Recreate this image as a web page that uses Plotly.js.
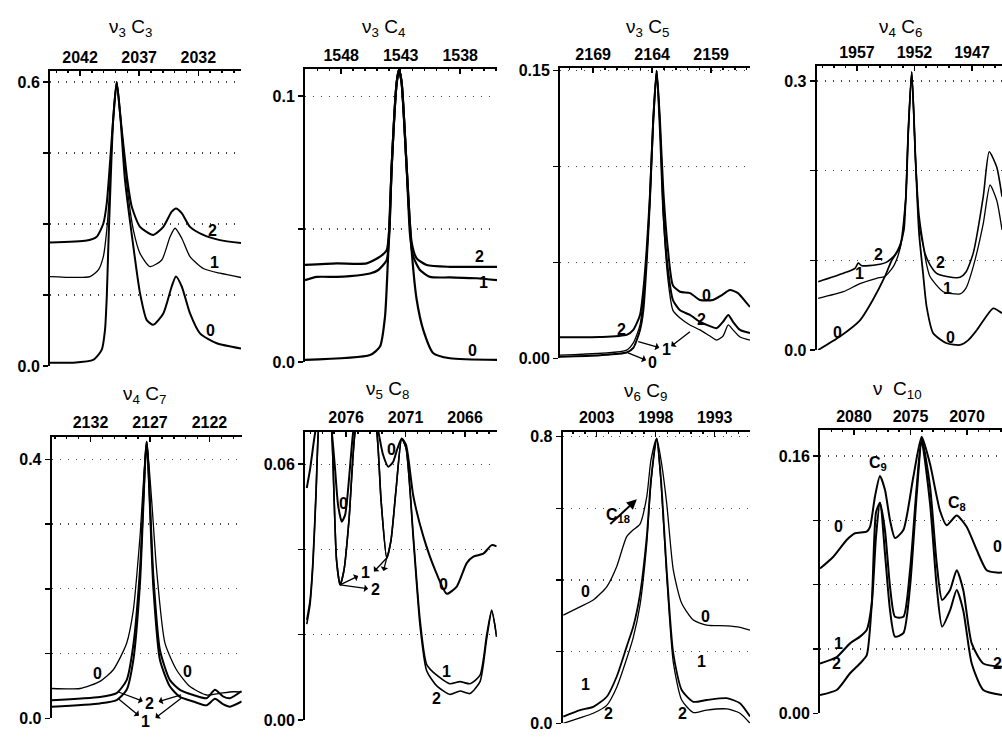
<!DOCTYPE html>
<html><head><meta charset="utf-8">
<script src="https://cdn.plot.ly/plotly-3.0.1.min.js"></script>
<style>html,body{margin:0;padding:0;background:#fff}#chart{width:1002px;height:741px}</style>
</head><body><div id="chart"></div>
<script>
// ---------------- DATA (wavenumber cm-1, absorbance) ----------------
// Panel 1: nu3 C3
const P1_WN0 = [2044.54, 2042.57, 2040.88, 2040.17, 2039.89, 2039.74, 2039.61, 2039.46, 2039.2, 2038.9, 2038.6, 2038.2, 2037.49, 2036.93, 2036.36, 2035.80, 2034.96, 2034.25, 2033.89, 2033.40, 2032.70, 2031.86, 2030.44, 2028.39];
const P1_A0  = [0.007, 0.007, 0.013, 0.034, 0.076, 0.146, 0.252, 0.358, 0.52, 0.60, 0.53, 0.393, 0.252, 0.154, 0.097, 0.087, 0.111, 0.168, 0.189, 0.168, 0.111, 0.069, 0.048, 0.037];
const P1_WN1 = [2044.54, 2041.15, 2040.45, 2040.03, 2039.74, 2039.55, 2039.2, 2038.9, 2038.6, 2037.92, 2037.49, 2036.93, 2036.08, 2035.09, 2034.39, 2033.97, 2033.40, 2032.70, 2031.58, 2030.17, 2028.39];
const P1_A1  = [0.189, 0.189, 0.203, 0.231, 0.287, 0.351, 0.52, 0.60, 0.53, 0.358, 0.287, 0.238, 0.21, 0.224, 0.273, 0.291, 0.27, 0.231, 0.206, 0.196, 0.187];
const P1_WN2 = [2044.54, 2041.43, 2040.59, 2040.03, 2039.74, 2039.2, 2038.9, 2038.6, 2038.0, 2037.63, 2036.93, 2035.80, 2034.96, 2034.25, 2033.89, 2033.40, 2032.70, 2031.58, 2030.17, 2028.39];
const P1_A2  = [0.261, 0.265, 0.273, 0.301, 0.344, 0.52, 0.60, 0.53, 0.393, 0.337, 0.294, 0.277, 0.294, 0.326, 0.333, 0.323, 0.294, 0.277, 0.266, 0.26];

// Panel 2: nu3 C4
const P2_WN0 = [1551.04, 1545.58, 1544.74, 1544.32, 1544.04, 1543.76, 1543.34, 1543.14, 1542.92, 1542.50, 1542.08, 1541.66, 1541.10, 1540.26, 1538.86, 1534.91];
const P2_A0  = [0.0008, 0.0026, 0.0058, 0.017, 0.042, 0.0733, 0.105, 0.110, 0.105, 0.0733, 0.042, 0.0235, 0.012, 0.0033, 0.0014, 0.0008];
const P2_WN1 = [1551.04, 1550.06, 1548.38, 1547.26, 1545.58, 1544.88, 1544.18, 1543.96, 1543.76, 1543.34, 1543.14, 1542.92, 1542.50, 1542.22, 1541.94, 1541.38, 1540.54, 1538.86, 1536.61, 1534.91];
const P2_A1  = [0.0308, 0.032, 0.032, 0.0323, 0.0333, 0.0346, 0.0383, 0.048, 0.0733, 0.105, 0.110, 0.105, 0.0733, 0.048, 0.0396, 0.0346, 0.032, 0.0318, 0.0315, 0.0308];
const P2_WN2 = [1551.04, 1548.38, 1545.86, 1544.74, 1544.18, 1543.96, 1543.76, 1543.34, 1543.14, 1542.92, 1542.50, 1542.08, 1541.66, 1540.82, 1538.86, 1534.91];
const P2_A2  = [0.0365, 0.0371, 0.0371, 0.0396, 0.042, 0.05, 0.0733, 0.105, 0.110, 0.105, 0.0733, 0.045, 0.039, 0.0365, 0.0358, 0.0358];

// Panel 3: nu3 C5
const P3_WN0 = [2171.81, 2168.42, 2166.16, 2165.60, 2165.03, 2164.75, 2164.47, 2164.19, 2163.91, 2163.62, 2163.34, 2163.06, 2162.66, 2162.24, 2161.64, 2160.80, 2159.95, 2158.85, 2158.08, 2157.41, 2156.73, 2155.99, 2155.71];
const P3_A0  = [0.0008, 0.0016, 0.003, 0.0054, 0.0148, 0.025, 0.0497, 0.0826, 0.124, 0.150, 0.124, 0.088, 0.0565, 0.038, 0.0347, 0.034, 0.0304, 0.0304, 0.033, 0.0356, 0.034, 0.0288, 0.0268];
const P3_WN1 = [2171.81, 2166.16, 2165.60, 2165.03, 2164.47, 2164.19, 2163.91, 2163.62, 2163.34, 2163.06, 2162.66, 2162.24, 2161.64, 2160.80, 2159.95, 2159.10, 2158.53, 2158.00, 2157.55, 2157.15, 2156.56, 2155.71];
const P3_A1  = [0.0017, 0.0043, 0.008, 0.0174, 0.052, 0.0826, 0.124, 0.150, 0.122, 0.0748, 0.041, 0.025, 0.021, 0.0174, 0.0148, 0.0116, 0.0095, 0.0116, 0.0174, 0.0148, 0.0111, 0.0095];
const P3_WN2 = [2171.81, 2168.42, 2166.16, 2165.60, 2165.03, 2164.75, 2164.47, 2164.19, 2163.91, 2163.62, 2163.34, 2163.06, 2162.66, 2162.24, 2161.64, 2160.80, 2159.95, 2159.10, 2158.53, 2158.00, 2157.55, 2157.15, 2156.56, 2155.71];
const P3_A2  = [0.011, 0.0111, 0.0122, 0.0148, 0.0226, 0.0356, 0.0565, 0.085, 0.124, 0.150, 0.119, 0.077, 0.046, 0.0304, 0.025, 0.0226, 0.019, 0.0168, 0.0157, 0.019, 0.0226, 0.019, 0.0148, 0.0132];

// Panel 4: nu4 C6
const P4_WN0 = [1960.37, 1958.48, 1956.74, 1955.61, 1954.57, 1953.98, 1953.26, 1952.75, 1952.55, 1952.24, 1951.90, 1951.60, 1951.25, 1950.94, 1950.37, 1949.20, 1948.04, 1947.32, 1946.59, 1945.15, 1944.39];
const P4_A0  = [0.0, 0.015, 0.033, 0.056, 0.082, 0.100, 0.115, 0.17, 0.24, 0.31, 0.21, 0.13, 0.085, 0.048, 0.0186, 0.0075, 0.0056, 0.011, 0.022, 0.0465, 0.041];
const P4_WN1 = [1960.37, 1958.19, 1956.74, 1955.29, 1954.57, 1953.84, 1953.41, 1953.09, 1952.75, 1952.55, 1952.24, 1951.90, 1951.60, 1951.23, 1950.94, 1950.65, 1949.50, 1948.04, 1947.52, 1946.89, 1946.02, 1945.43, 1944.85, 1944.39];
const P4_A1  = [0.0576, 0.065, 0.074, 0.080, 0.082, 0.093, 0.106, 0.123, 0.17, 0.24, 0.31, 0.21, 0.14, 0.115, 0.095, 0.082, 0.065, 0.0625, 0.069, 0.093, 0.141, 0.184, 0.167, 0.134];
const P4_WN2 = [1960.37, 1958.19, 1957.17, 1956.89, 1956.57, 1955.29, 1954.42, 1953.70, 1953.26, 1952.91, 1952.75, 1952.55, 1952.24, 1951.90, 1951.60, 1951.09, 1950.65, 1950.07, 1949.20, 1948.04, 1947.52, 1946.89, 1946.02, 1945.50, 1944.85, 1944.39];
const P4_A2  = [0.076, 0.0855, 0.091, 0.097, 0.094, 0.095, 0.098, 0.106, 0.117, 0.134, 0.17, 0.24, 0.31, 0.21, 0.15, 0.108, 0.095, 0.0855, 0.082, 0.081, 0.087, 0.108, 0.171, 0.221, 0.204, 0.171];

// Panel 5: nu4 C7
const P5_WN0 = [2135.26, 2132.88, 2131.20, 2130.08, 2128.96, 2128.40, 2127.84, 2127.28, 2126.86, 2126.44, 2125.74, 2124.76, 2123.64, 2122.24, 2121.12, 2120.00, 2119.29];
const P5_A0  = [0.046, 0.046, 0.057, 0.075, 0.116, 0.167, 0.28, 0.427, 0.337, 0.229, 0.116, 0.0746, 0.049, 0.036, 0.0386, 0.041, 0.0406];
const P5_WN12 = [2135.26, 2131.20, 2129.80, 2128.96, 2128.40, 2127.84, 2127.28, 2126.72, 2126.16, 2125.32, 2124.48, 2123.36, 2122.24, 2121.54, 2120.87, 2120.28, 2119.29];
const P5_A1  = [0.018, 0.023, 0.028, 0.044, 0.09, 0.208, 0.427, 0.203, 0.09, 0.049, 0.033, 0.026, 0.02, 0.03, 0.022, 0.018, 0.026];
const P5_A2  = [0.028, 0.033, 0.039, 0.059, 0.113, 0.229, 0.427, 0.221, 0.105, 0.059, 0.044, 0.036, 0.031, 0.044, 0.034, 0.031, 0.042];

// Panel 6: nu5 C8
const P6_WN0 = [2079.30, 2079.03, 2078.69, 2078.44, 2077.90, 2077.20, 2076.92, 2076.67, 2076.36, 2076.08, 2075.83, 2075.58, 2075.39, 2074.32, 2073.29, 2072.89, 2072.45, 2072.05, 2071.71, 2071.32, 2070.96, 2070.34, 2069.50, 2068.52, 2067.54, 2066.70, 2065.86, 2065.30, 2064.46, 2063.76, 2063.34];
const P6_A0  = [0.0544, 0.0587, 0.0657, 0.0704, 0.085, 0.0677, 0.0587, 0.0504, 0.0465, 0.0481, 0.054, 0.0622, 0.0677, 0.082, 0.0677, 0.0622, 0.0594, 0.0605, 0.0634, 0.066, 0.0645, 0.0524, 0.043, 0.0352, 0.0296, 0.0313, 0.0368, 0.0383, 0.039, 0.041, 0.0407];
const P6_WN12 = [2079.30, 2079.03, 2078.78, 2078.52, 2078.33, 2077.76, 2077.20, 2077.00, 2076.80, 2076.50, 2076.17, 2075.75, 2075.24, 2074.32, 2073.42, 2073.06, 2072.58, 2072.22, 2071.80, 2071.32, 2070.96, 2070.34, 2069.78, 2069.22, 2068.38, 2067.26, 2066.42, 2065.58, 2064.74, 2064.18, 2063.76, 2063.34];
const P6_A1  = [0.0235, 0.028, 0.0375, 0.054, 0.0677, 0.085, 0.0677, 0.0516, 0.0375, 0.0317, 0.0352, 0.047, 0.0677, 0.08, 0.0677, 0.0516, 0.038, 0.0422, 0.054, 0.066, 0.0638, 0.043, 0.0235, 0.013, 0.0105, 0.0085, 0.009, 0.0085, 0.0105, 0.020, 0.0258, 0.0195];
const P6_A2  = [0.0225, 0.027, 0.0365, 0.053, 0.0677, 0.085, 0.0677, 0.0516, 0.0375, 0.0317, 0.0352, 0.047, 0.0677, 0.08, 0.0677, 0.0516, 0.038, 0.0422, 0.054, 0.066, 0.0638, 0.042, 0.022, 0.0115, 0.0080, 0.0060, 0.0068, 0.0062, 0.009, 0.019, 0.0255, 0.0195];

// Panel 7: nu6 C9
const P7_WN = [2005.83, 2004.42, 2003.29, 2002.15, 2001.31, 2000.46, 1999.90, 1999.33, 1998.76, 1998.40, 1997.92, 1997.55, 1997.07, 1996.51, 1995.80, 1994.81, 1993.68, 1991.98, 1990.86, 1990.01];
const P7_A0 = [0.302, 0.325, 0.344, 0.381, 0.437, 0.521, 0.54, 0.556, 0.632, 0.735, 0.795, 0.735, 0.614, 0.428, 0.335, 0.288, 0.274, 0.272, 0.268, 0.26];
const P7_A1 = [0.0186, 0.037, 0.046, 0.074, 0.13, 0.214, 0.27, 0.36, 0.52, 0.68, 0.795, 0.68, 0.428, 0.195, 0.093, 0.06, 0.065, 0.07, 0.056, 0.019];
const P7_A2 = [0.0, 0.015, 0.028, 0.05, 0.10, 0.18, 0.24, 0.33, 0.50, 0.67, 0.795, 0.67, 0.41, 0.17, 0.065, 0.03, 0.037, 0.04, 0.028, 0.0];

// Panel 8: nu C10
const P8_WN0 = [2083.01, 2081.83, 2080.65, 2079.91, 2078.88, 2078.58, 2078.14, 2077.70, 2077.26, 2076.81, 2076.37, 2075.63, 2074.75, 2074.01, 2073.27, 2072.39, 2071.80, 2070.91, 2070.03, 2069.14, 2068.26, 2067.37, 2066.90];
const P8_A0  = [0.090, 0.0974, 0.1078, 0.112, 0.113, 0.116, 0.135, 0.1476, 0.139, 0.120, 0.109, 0.114, 0.147, 0.172, 0.155, 0.126, 0.117, 0.123, 0.116, 0.1016, 0.089, 0.0875, 0.0875];
const P8_WN12 = [2083.01, 2081.53, 2080.35, 2079.47, 2078.88, 2078.43, 2078.05, 2077.70, 2077.26, 2076.81, 2076.37, 2075.63, 2075.04, 2074.45, 2074.01, 2073.27, 2072.68, 2072.20, 2071.50, 2070.91, 2070.33, 2069.58, 2068.56, 2066.90];
const P8_A1  = [0.031, 0.035, 0.0435, 0.0477, 0.0518, 0.068, 0.11, 0.131, 0.114, 0.0787, 0.060, 0.060, 0.089, 0.141, 0.171, 0.141, 0.0933, 0.0705, 0.0767, 0.089, 0.0767, 0.0435, 0.031, 0.029];
const P8_A2  = [0.0114, 0.0145, 0.0249, 0.031, 0.036, 0.068, 0.125, 0.131, 0.0995, 0.064, 0.0477, 0.0498, 0.0787, 0.136, 0.169, 0.1306, 0.0787, 0.0539, 0.064, 0.0767, 0.064, 0.031, 0.0145, 0.0114];

// ---------------- LAYOUT ----------------
const W = 1002, H = 741;
const FONT = 'Liberation Sans, Arial, Helvetica, sans-serif';
const panels = [
  {title:'ν<sub>3</sub> C<sub>3</sub>', tx:130, ty:28, px:[50,241], py:[71,366], xr:[2044.54,2028.39], x0:2042,
   yr:0.6233, yt:[0,0.15,0.3,0.45,0.6], yl:['0.0','','','','0.6'],
   curves:[[P1_WN0,P1_A0,2.0],[P1_WN1,P1_A1,1.3],[P1_WN2,P1_A2,2.0]]},
  {title:'ν<sub>3</sub> C<sub>4</sub>', tx:383, ty:28, px:[305,497], py:[69,362], xr:[1551.04,1534.91], x0:1548,
   yr:0.1102, yt:[0,0.05,0.1], yl:['0.0','','0.1'],
   curves:[[P2_WN0,P2_A0,2.2],[P2_WN1,P2_A1,2.2],[P2_WN2,P2_A2,2.2]]},
  {title:'ν<sub>3</sub> C<sub>5</sub>', tx:647, ty:28, px:[560,750], py:[68,358.3], xr:[2171.81,2155.71], x0:2169,
   yr:0.1514, yt:[0,0.05,0.1,0.15], yl:['0.00','','','0.15'],
   curves:[[P3_WN0,P3_A0,2.0],[P3_WN1,P3_A1,1.3],[P3_WN2,P3_A2,2.0]]},
  {title:'ν<sub>4</sub> C<sub>6</sub>', tx:900, ty:28, px:[816.7,1002], py:[66,350], xr:[1960.50,1944.39], x0:1957,
   yr:0.3167, yt:[0,0.1,0.2,0.3], yl:['0.0','','','0.3'],
   curves:[[P4_WN0,P4_A0,1.8],[P4_WN1,P4_A1,1.3],[P4_WN2,P4_A2,1.6]]},
  {title:'ν<sub>4</sub> C<sub>7</sub>', tx:144, ty:395, px:[51.7,241.7], py:[436.7,718.3], xr:[2135.26,2119.29], x0:2132,
   yr:0.4349, yt:[0,0.1,0.2,0.3,0.4], yl:['0.0','','','','0.4'],
   curves:[[P5_WN0,P5_A0,1.3],[P5_WN12,P5_A1,2.0],[P5_WN12,P5_A2,2.0]]},
  {title:'ν<sub>5</sub> C<sub>8</sub>', tx:387, ty:390, px:[305,496.7], py:[431.7,720], xr:[2079.45,2063.34], x0:2076,
   yr:0.0676, yt:[0,0.02,0.04,0.06], yl:['0.00','','','0.06'],
   curves:[[P6_WN0,P6_A0,2.0],[P6_WN12,P6_A1,1.6],[P6_WN12,P6_A2,1.6]]},
  {title:'ν<sub>6</sub> C<sub>9</sub>', tx:645, ty:392, px:[562.7,750], py:[431.7,723.3], xr:[2005.88,1990.01], x0:2003,
   yr:0.8138, yt:[0,0.2,0.4,0.6,0.8], yl:['0.0','','','','0.8'],
   curves:[[P7_WN,P7_A0,1.3],[P7_WN,P7_A1,1.8],[P7_WN,P7_A2,1.3]]},
  {title:'ν  C<sub>10</sub>', tx:897, ty:390, px:[820,1002], py:[430,713.3], xr:[2083.01,2066.90], x0:2080,
   yr:0.1762, yt:[0,0.04,0.08,0.12,0.16], yl:['0.00','','','','0.16'],
   curves:[[P8_WN0,P8_A0,2.0],[P8_WN12,P8_A1,2.0],[P8_WN12,P8_A2,2.0]]}
];

const sfx = i => (i === 1 ? '' : String(i));
const traces = [];
const TICKFONT = {family:FONT, size:16, color:'#000', weight:'bold'};
const layout = {
  width: W, height: H, margin: {l:0, r:0, t:0, b:0},
  paper_bgcolor: '#fff', plot_bgcolor: 'rgba(0,0,0,0)',
  showlegend: false, font: {family: FONT, color: '#000', size: 15},
  annotations: []
};

panels.forEach((p, k) => {
  const i = k + 1;
  p.curves.forEach(c => {
    traces.push({type:'scatter', mode:'lines', x:c[0], y:c[1], xaxis:'x'+sfx(i), yaxis:'y'+sfx(i),
      line:{color:'#000', width:c[2], shape:'spline', smoothing:0.6}, hoverinfo:'skip'});
  });
  layout['xaxis'+sfx(i)] = {
    domain:[p.px[0]/W, p.px[1]/W], range:p.xr, side:'top', anchor:'y'+sfx(i),
    tickmode:'linear', tick0:p.x0, dtick:5, ticks:'inside', ticklen:5, tickwidth:1.5, tickcolor:'#000',
    minor:{tickmode:'linear', tick0:p.x0, dtick:1, ticks:'inside', ticklen:2, tickwidth:1.5, tickcolor:'#000', showgrid:false},
    showline:true, linewidth:2, linecolor:'#000', showgrid:false, zeroline:false,
    tickfont:TICKFONT, fixedrange:true
  };
  layout['yaxis'+sfx(i)] = {
    domain:[1 - p.py[1]/H, 1 - p.py[0]/H], range:[0, p.yr], anchor:'x'+sfx(i),
    tickmode:'array', tickvals:p.yt, ticktext:p.yl, ticks:'outside', ticklen:5, tickwidth:1.5, tickcolor:'#000',
    showline:true, linewidth:2, linecolor:'#000', showgrid:true, gridcolor:'#444', gridwidth:1.2, griddash:'1px,7px',
    zeroline:false, tickfont:TICKFONT, fixedrange:true
  };
  layout.annotations.push({xref:'paper', yref:'paper', x:p.tx/W, y:1 - p.ty/H, text:p.title, showarrow:false,
    xanchor:'center', yanchor:'middle', font:{family:FONT, size:19, color:'#000'}});
});

function lab(i, x, y, t, size) {
  layout.annotations.push({xref:'x'+sfx(i), yref:'y'+sfx(i), x:x, y:y, text:t, showarrow:false,
    font:{family:FONT, size:size || 16, color:'#000', weight:'bold'}});
}
function arr(i, x, y, t, ax, ay) {
  layout.annotations.push({xref:'x'+sfx(i), yref:'y'+sfx(i), x:x, y:y, text:t, showarrow:true, ax:ax, ay:ay,
    arrowhead:2, arrowsize:1, arrowwidth:1.3, arrowcolor:'#000', arrowside:'start', standoff:0, startstandoff:1,
    font:{family:FONT, size:16, color:'#000', weight:'bold'}});
}

// Panel 1 labels
lab(1, 2030.76, 0.287, '2'); lab(1, 2030.59, 0.218, '1'); lab(1, 2030.93, 0.076, '0');
// Panel 2 labels
lab(2, 1536.34, 0.0395, '2'); lab(2, 1536.08, 0.0298, '1'); lab(2, 1536.95, 0.0045, '0');
// Panel 3 labels
lab(3, 2166.58, 0.0148, '2'); lab(3, 2159.38, 0.033, '0'); lab(3, 2159.81, 0.020, '2');
arr(3, 2166.05, 0.0028, '0', 25, 10);
arr(3, 2165.18, 0.0087, '1', 28, 8);
arr(3, 2160.80, 0.0139, '\u00a0', -23, 18);
// Panel 4 labels
lab(4, 1955.17, 0.106, '2'); lab(4, 1956.74, 0.085, '1'); lab(4, 1958.65, 0.019, '0');
lab(4, 1949.78, 0.098, '2'); lab(4, 1949.09, 0.069, '1'); lab(4, 1948.91, 0.0145, '0');
// Panel 5 labels
lab(5, 2131.39, 0.0695, '0'); lab(5, 2123.82, 0.072, '0');
arr(5, 2129.71, 0.041, '2', 32, 12);
arr(5, 2124.38, 0.036, '\u00a0', -27, 8);
arr(5, 2129.71, 0.031, '1', 28, 23);
arr(5, 2124.38, 0.031, '\u00a0', -30, 23);
// Panel 6 labels
lab(6, 2076.23, 0.0508, '0'); lab(6, 2072.16, 0.0634, '0'); lab(6, 2067.82, 0.0317, '0');
lab(6, 2067.54, 0.0113, '1'); lab(6, 2068.38, 0.0051, '2');
arr(6, 2076.50, 0.0317, '1', 25, -12);
arr(6, 2076.50, 0.0317, '2', 35, 5);
arr(6, 2072.58, 0.038, '\u00a0', -17, 18);
arr(6, 2072.58, 0.038, '\u00a0', -6, 24);
// Panel 7 labels
lab(7, 2003.99, 0.367, '0'); lab(7, 1993.82, 0.298, '0'); lab(7, 2003.99, 0.107, '1');
lab(7, 2002.02, 0.028, '2'); lab(7, 1994.10, 0.172, '1'); lab(7, 1995.71, 0.028, '2');
lab(7, 2001.19, 0.581, 'C<sub>18</sub>', 16);
layout.annotations.push({xref:'x7', yref:'y7', x:1999.6, y:0.625, text:'', showarrow:true, ax:-28, ay:26,
  arrowhead:2, arrowsize:1, arrowwidth:2, arrowcolor:'#000'});
// Panel 8 labels
lab(8, 2077.85, 0.1555, 'C<sub>9</sub>'); lab(8, 2070.91, 0.1306, 'C<sub>8</sub>');
lab(8, 2081.39, 0.116, '0'); lab(8, 2067.26, 0.1036, '0');
lab(8, 2081.39, 0.0435, '1'); lab(8, 2081.53, 0.031, '2'); lab(8, 2067.26, 0.031, '2');

Plotly.newPlot('chart', traces, layout, {staticPlot:true, displayModeBar:false});
</script>
</body></html>
